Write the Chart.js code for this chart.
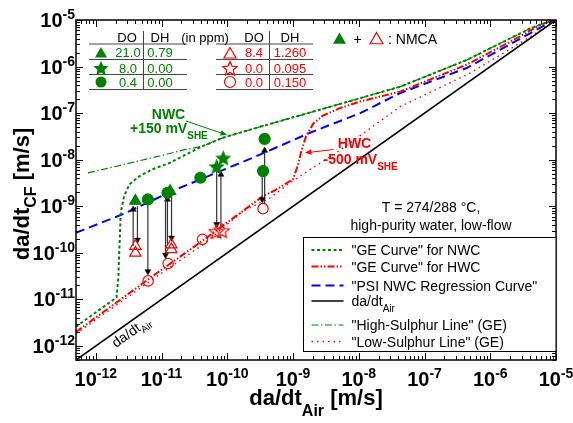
<!DOCTYPE html>
<html>
<head>
<meta charset="utf-8">
<script src="https://cdn.jsdelivr.net/npm/chart.js@4.4.0/dist/chart.umd.min.js"></script>
<style>
  html, body { margin: 0; padding: 0; background: #fff; }
  #wrap { width: 573px; height: 423px; position: relative; }
</style>
</head>
<body>
<div id="wrap"><canvas id="myChart"></canvas></div>
<script>
var green = '#008000';
var red = '#ff0000';
var blue = '#0000ff';
var FONT = "'Liberation Sans', Arial, Helvetica, sans-serif";

// axes (da/dt in m/s), log-log
var axisMin = 5e-13;
var axisMax = 1e-5;
var decades = [-12, -11, -10, -9, -8, -7, -6, -5];

// curves
var airX = [5e-13, 1e-5];
var airY = [5e-13, 1e-5];

var nwcX = [5e-13, 2.07e-12, 2.21e-12, 2.26e-12, 2.4e-12, 2.7e-12, 3.24e-12, 4.57e-12, 7.2e-12, 1.32e-11, 2.34e-11, 4.2e-11, 8.5e-11, 3.16e-10, 3.16e-9, 4.27e-8, 4.37e-7, 4.07e-6, 9.3e-6];
var nwcY = [2.6e-12, 1.1e-11, 3.2e-11, 8.5e-11, 7.4e-10, 1.66e-9, 2.95e-9, 4.4e-9, 6.2e-9, 8.5e-9, 1.29e-8, 1.95e-8, 2.95e-8, 5.1e-8, 1.29e-7, 3.7e-7, 1.38e-6, 6.6e-6, 1.02e-5];

var hwcX = [5e-13, 6.5e-12, 4.2e-11, 3.5e-10, 5.0e-10, 1.0e-9, 1.17e-9, 1.35e-9, 1.58e-9, 2.04e-9, 2.8e-9, 5.0e-9, 1.05e-8, 4.27e-8, 4.37e-7, 2.24e-6, 5.75e-6, 9.5e-6];
var hwcY = [2.0e-12, 2.8e-11, 1.82e-10, 1.66e-9, 2.1e-9, 3.8e-9, 7.2e-9, 1.6e-8, 3.2e-8, 6.0e-8, 8.7e-8, 1.26e-7, 1.78e-7, 2.9e-7, 1.1e-6, 3.7e-6, 7.8e-6, 1.02e-5];

var psiX = [5e-13, 2.54e-12, 1.66e-11, 2.43e-10, 1.82e-9, 1.05e-8, 4.27e-8, 4.37e-7, 4.47e-6, 9.3e-6];
var psiY = [2.7e-10, 6.7e-10, 2.3e-9, 1.1e-8, 3.8e-8, 1.0e-7, 2.7e-7, 9.3e-7, 5.6e-6, 1.0e-5];

var highSX = [7.6e-13, 1.0e-11, 2.34e-11, 4.2e-11, 8.5e-11, 3.16e-10, 3.16e-9, 4.27e-8, 4.37e-7, 4.07e-6, 9.3e-6];
var highSY = [5.2e-9, 1.23e-8, 1.66e-8, 1.95e-8, 2.95e-8, 5.1e-8, 1.29e-7, 3.7e-7, 1.38e-6, 6.6e-6, 1.02e-5];

var lowSX = [5e-13, 6.5e-12, 4.2e-11, 1.75e-10, 4.47e-10, 8.9e-10, 1.82e-9, 4.57e-9, 4.27e-8, 4.9e-7, 4.07e-6, 9.3e-6];
var lowSY = [1.82e-12, 2.4e-11, 1.48e-10, 7.85e-10, 1.51e-9, 3.16e-9, 6.2e-9, 1.41e-8, 1.38e-7, 7.2e-7, 4.37e-6, 9.5e-6];

// measured points, NWC (filled green) and HWC (open red)
var nwcTriX = [4.0e-12, 1.35e-11];
var nwcTriY = [1.3e-9, 2.1e-9];
var nwcStarX = [6.9e-11, 8.7e-11];
var nwcStarY = [7.2e-9, 1.1e-8];
var nwcCircX = [6.2e-12, 1.23e-11, 3.9e-11, 3.5e-10, 3.7e-10];
var nwcCircY = [1.4e-9, 1.95e-9, 4.1e-9, 5.7e-9, 2.8e-8];

var hwcTriX = [4.0e-12, 4.0e-12, 1.41e-11, 1.41e-11];
var hwcTriY = [1.4e-10, 1.0e-10, 1.5e-10, 1.19e-10];
var hwcStarX = [6.8e-11, 8.3e-11];
var hwcStarY = [2.9e-10, 3.0e-10];
var hwcCircX = [6.25e-12, 1.26e-11, 4.2e-11, 3.5e-10];
var hwcCircY = [2.5e-11, 5.9e-11, 1.95e-10, 8.9e-10];

// switching arrows: x, start, end (head)
var arrowX    = [3.7e-12, 4.3e-12, 6.2e-12, 1.15e-11, 1.23e-11, 1.42e-11, 6.9e-11, 8.0e-11, 3.4e-10, 3.7e-10];
var arrowFrom = [1.4e-10, 1.0e-9, 1.4e-9, 1.9e-9, 1.5e-10, 2.0e-9, 7.0e-9, 3.6e-10, 5.6e-9, 1.1e-9];
var arrowTo   = [8.5e-10, 1.9e-10, 4.0e-11, 9.0e-11, 1.4e-9, 2.1e-10, 4.1e-10, 4.8e-9, 1.4e-9, 1.57e-8];

function pts(xs, ys) {
  return xs.map(function (x, i) { return { x: x, y: ys[i] }; });
}

function curve(xs, ys, color, dash, width) {
  return { data: pts(xs, ys), showLine: true, borderColor: color, borderDash: dash,
    borderWidth: width, pointRadius: 0, fill: false, tension: 0, order: 2 };
}

function starPath(g, x, y, r) {
  g.beginPath();
  for (var i = 0; i < 10; i++) {
    var rr = i % 2 ? r * 0.46 : r;
    var a = -Math.PI / 2 + i * Math.PI / 5;
    g.lineTo(x + rr * Math.cos(a), y + rr * Math.sin(a));
  }
  g.closePath();
}

function starCanvas(r, fill, stroke, lw) {
  var c = document.createElement('canvas');
  var s = Math.ceil(2 * r + 4);
  c.width = s; c.height = s;
  var g = c.getContext('2d');
  starPath(g, s / 2, s / 2 + 0.8, r);
  if (fill) { g.fillStyle = fill; g.fill(); }
  if (stroke) { g.strokeStyle = stroke; g.lineWidth = lw; g.stroke(); }
  return c;
}

var greenStar = starCanvas(8.5, green, null, 0);
var redStar = starCanvas(7.5, null, red, 1.2);

function marks(xs, ys, style, radius, fill, stroke) {
  return { data: pts(xs, ys), showLine: false, pointStyle: style, pointRadius: radius,
    pointBackgroundColor: fill, pointBorderColor: stroke, pointBorderWidth: 1.2, order: 0 };
}

var geNwc = curve(nwcX, nwcY, green, [3, 2.5], 2);
var geHwc = curve(hwcX, hwcY, red, [7, 2, 1.5, 2, 1.5, 2], 2);
var psi = curve(psiX, psiY, blue, [9, 5], 2);
var air = curve(airX, airY, '#000', [], 1.6);
var highS = curve(highSX, highSY, green, [7, 2.5, 1.5, 2.5], 1.2);
var lowS = curve(lowSX, lowSY, red, [1.5, 4], 1.4);

var datasets = [
  marks(nwcTriX, nwcTriY, 'triangle', 6.5, green, green),
  marks(nwcStarX, nwcStarY, greenStar, 8, green, green),
  marks(nwcCircX, nwcCircY, 'circle', 5.5, green, green),
  marks(hwcTriX, hwcTriY, 'triangle', 6.5, 'rgba(0,0,0,0)', red),
  marks(hwcStarX, hwcStarY, redStar, 7, 'rgba(0,0,0,0)', red),
  marks(hwcCircX, hwcCircY, 'circle', 5.2, 'rgba(0,0,0,0)', red)
];

arrowX.forEach(function (x, i) {
  var up = arrowTo[i] > arrowFrom[i];
  datasets.push({
    data: [{ x: x, y: arrowFrom[i] }, { x: x, y: arrowTo[i] }],
    showLine: true, borderColor: '#333', borderWidth: 1.2,
    pointRadius: [0, 3.5], pointStyle: 'triangle', pointRotation: [0, up ? 0 : 180],
    pointBackgroundColor: '#000', pointBorderColor: '#000', pointBorderWidth: 0.5, order: 1
  });
});

datasets.push(geNwc, geHwc, psi, air, highS, lowS);

// text with sub/superscripts: parts = [text, font, dy, color]
function runText(ctx, x, y, parts, align) {
  var w = 0;
  parts.forEach(function (p) { ctx.font = p[1]; w += ctx.measureText(p[0]).width; });
  if (align === 'center') x -= w / 2;
  else if (align === 'right') x -= w;
  ctx.textAlign = 'left';
  ctx.textBaseline = 'alphabetic';
  parts.forEach(function (p) {
    ctx.font = p[1];
    if (p[3]) ctx.fillStyle = p[3];
    ctx.fillText(p[0], x, y + (p[2] || 0));
    x += ctx.measureText(p[0]).width;
  });
}

function seg(ctx, x1, y1, x2, y2) {
  ctx.beginPath(); ctx.moveTo(x1, y1); ctx.lineTo(x2, y2); ctx.stroke();
}

function head(ctx, x1, y1, x2, y2, size, color) {
  var a = Math.atan2(y2 - y1, x2 - x1);
  ctx.fillStyle = color;
  ctx.beginPath();
  ctx.moveTo(x2, y2);
  ctx.lineTo(x2 - size * Math.cos(a - 0.4), y2 - size * Math.sin(a - 0.4));
  ctx.lineTo(x2 - size * Math.cos(a + 0.4), y2 - size * Math.sin(a + 0.4));
  ctx.closePath();
  ctx.fill();
}

function tri(ctx, x, y, r, fill, stroke) {
  ctx.beginPath();
  for (var k = 0; k < 3; k++) {
    var a = k * 2 * Math.PI / 3;
    ctx.lineTo(x + Math.sin(a) * r, y - Math.cos(a) * r);
  }
  ctx.closePath();
  if (fill) { ctx.fillStyle = fill; ctx.fill(); }
  if (stroke) { ctx.strokeStyle = stroke; ctx.lineWidth = 1.2; ctx.stroke(); }
}

function circ(ctx, x, y, r, fill, stroke) {
  ctx.beginPath();
  ctx.arc(x, y, r, 0, 2 * Math.PI);
  if (fill) { ctx.fillStyle = fill; ctx.fill(); }
  if (stroke) { ctx.strokeStyle = stroke; ctx.lineWidth = 1.2; ctx.stroke(); }
}

var decor = {
  id: 'decor',
  afterDraw: function (chart) {
    var ctx = chart.ctx, a = chart.chartArea, xs = chart.scales.x, ys = chart.scales.y;
    ctx.save();
    ctx.setLineDash([]);
    ctx.strokeStyle = '#000';

    // ticks, inward on all four sides
    ctx.lineWidth = 1;
    for (var d = -13; d <= -5; d++) {
      for (var m = 1; m <= 9; m++) {
        var v = m * Math.pow(10, d);
        if (v < axisMin * 0.999 || v > axisMax * 1.001) continue;
        var len = m === 1 ? 7 : 4;
        var px = Math.round(xs.getPixelForValue(v)) + 0.5;
        seg(ctx, px, a.bottom, px, a.bottom - len);
        seg(ctx, px, a.top, px, a.top + len);
        var py = Math.round(ys.getPixelForValue(v)) + 0.5;
        seg(ctx, a.left, py, a.left + len, py);
        seg(ctx, a.right, py, a.right - len, py);
      }
    }
    ctx.lineWidth = 1.5;
    ctx.strokeRect(a.left, a.top, a.right - a.left, a.bottom - a.top);

    // tick labels
    ctx.fillStyle = '#000';
    var bf = 'bold 20px ' + FONT, ef = 'bold 14px ' + FONT;
    decades.forEach(function (e) {
      var v = Math.pow(10, e);
      var px = xs.getPixelForValue(v);
      runText(ctx, px, 386, [['10', bf, 0], [String(e), ef, -8]], 'center');
      var py = ys.getPixelForValue(v);
      runText(ctx, a.left - 1, py + 7, [['10', bf, 0], [String(e), ef, -8]], 'right');
    });

    // axis titles
    var tf = 'bold 22px ' + FONT, sf = 'bold 16px ' + FONT;
    runText(ctx, 316, 405, [['da/dt', tf, 0], ['Air', sf, 11], [' [m/s]', tf, 0]], 'center');
    ctx.save();
    ctx.translate(29, 194);
    ctx.rotate(-Math.PI / 2);
    runText(ctx, 0, 0, [['da/dt', tf, 0], ['CF', sf, 7], [' [m/s]', tf, 0]], 'center');
    ctx.restore();

    // tables of water chemistry
    var tb = '13px ' + FONT;
    ctx.strokeStyle = '#444';
    ctx.lineWidth = 1;
    [44, 59.5, 74.5, 89.5].forEach(function (y) {
      seg(ctx, 89, y, 187, y);
      seg(ctx, 216, y, 313, y);
    });
    seg(ctx, 143.5, 31, 143.5, 89.5);
    seg(ctx, 269.5, 31, 269.5, 89.5);
    ctx.textAlign = 'center';
    ctx.font = tb;
    ctx.fillStyle = '#000';
    ctx.fillText('DO', 127, 42);
    ctx.fillText('DH', 160, 42);
    ctx.fillText('(in ppm)', 205, 42);
    ctx.fillText('DO', 254, 42);
    ctx.fillText('DH', 290, 42);
    var rowsY = [52.7, 68, 82];
    var gDO = ['21.0', '8.0', '0.4'], gDH = ['0.79', '0.00', '0.00'];
    var rDO = ['8.4', '0.0', '0.0'], rDH = ['1.260', '0.095', '0.150'];
    rowsY.forEach(function (y, i) {
      ctx.font = tb;
      ctx.textAlign = 'center';
      ctx.fillStyle = green;
      ctx.fillText(gDO[i], 128, y + 4.5);
      ctx.fillText(gDH[i], 160, y + 4.5);
      ctx.fillStyle = red;
      ctx.fillText(rDO[i], 254, y + 4.5);
      ctx.fillText(rDH[i], 290, y + 4.5);
    });
    tri(ctx, 101, 54, 7, green, null);
    starPath(ctx, 101, 68.8, 8); ctx.fillStyle = green; ctx.fill();
    circ(ctx, 101, 82, 5.5, green, null);
    tri(ctx, 230, 54.5, 7, null, red);
    starPath(ctx, 230, 69, 7.5); ctx.strokeStyle = red; ctx.lineWidth = 1.2; ctx.stroke();
    circ(ctx, 230, 82, 5.5, null, red);

    // NMCA key
    tri(ctx, 339.5, 40, 7.5, green, null);
    tri(ctx, 376.5, 40, 7.5, null, red);
    ctx.fillStyle = '#000';
    ctx.font = '14px ' + FONT;
    ctx.textAlign = 'center';
    ctx.fillText('+', 357.5, 44);
    ctx.textAlign = 'left';
    ctx.fillText(': NMCA', 388, 44);

    // NWC / HWC annotations
    var af = 'bold 14px ' + FONT, asf = 'bold 10px ' + FONT;
    ctx.fillStyle = green;
    ctx.font = af;
    ctx.textAlign = 'center';
    ctx.fillText('NWC', 168.5, 118.5);
    runText(ctx, 130, 133, [['+150 mV', af, 0, green], ['SHE', asf, 6, green]], 'left');
    ctx.strokeStyle = green; ctx.lineWidth = 1;
    seg(ctx, 186, 121, 224, 134);
    head(ctx, 186, 121, 227, 135, 7, green);

    ctx.fillStyle = red;
    ctx.font = af;
    ctx.textAlign = 'center';
    ctx.fillText('HWC', 354.5, 147.5);
    runText(ctx, 323.5, 164, [['-500 mV', af, 0, red], ['SHE', asf, 6, red]], 'left');
    ctx.strokeStyle = red; ctx.lineWidth = 1;
    seg(ctx, 333.5, 149.5, 308, 152.5);
    head(ctx, 333.5, 149.5, 305, 152.8, 7, red);

    // label along the da/dt_Air line
    var ang = Math.atan2(ys.getPixelForValue(1e-12) - ys.getPixelForValue(1e-11),
      xs.getPixelForValue(1e-11) - xs.getPixelForValue(1e-12));
    ctx.save();
    ctx.translate(116, 348);
    ctx.rotate(-ang);
    runText(ctx, 0, 0, [['da/dt', '14px ' + FONT, 0, '#000'], ['Air', '10px ' + FONT, 4, '#000']], 'left');
    ctx.restore();

    // conditions
    ctx.fillStyle = '#000';
    ctx.font = '14px ' + FONT;
    ctx.textAlign = 'center';
    ctx.fillText('T = 274/288 \u00b0C,', 431, 212);
    ctx.fillText('high-purity water, low-flow', 431, 230);

    // legend
    ctx.fillStyle = '#fff';
    ctx.fillRect(303.5, 237.5, a.right - 303.5, 114);
    ctx.strokeStyle = '#000';
    ctx.lineWidth = 1;
    ctx.setLineDash([]);
    ctx.strokeRect(303.5, 237.5, a.right - 303.5, 114);
    var items = [
      [geNwc, 250, [['"GE Curve" for NWC', '14px ' + FONT, 0]]],
      [geHwc, 266.5, [['"GE Curve" for HWC', '14px ' + FONT, 0]]],
      [psi, 285.5, [['"PSI NWC Regression Curve"', '14px ' + FONT, 0]]],
      [air, 301, [['da/dt', '14px ' + FONT, 0], ['Air', '10px ' + FONT, 6]]],
      [highS, 325, [['"High-Sulphur Line" (GE)', '14px ' + FONT, 0]]],
      [lowS, 341.5, [['"Low-Sulphur Line" (GE)', '14px ' + FONT, 0]]]
    ];
    items.forEach(function (it) {
      var ds = it[0];
      ctx.strokeStyle = ds.borderColor;
      ctx.lineWidth = ds.borderWidth;
      ctx.setLineDash(ds.borderDash);
      seg(ctx, 311.5, it[1], 343.5, it[1]);
      ctx.setLineDash([]);
      ctx.fillStyle = '#000';
      runText(ctx, 351.5, it[1] + 5, it[2], 'left');
    });
    ctx.restore();
  }
};

var ctx = document.getElementById('myChart').getContext('2d');
var myChart = new Chart(ctx, {
  type: 'scatter',
  data: { datasets: datasets },
  options: {
    responsive: true,
    maintainAspectRatio: false,
    animation: false,
    layout: { padding: { left: 76, right: 17, top: 20, bottom: 63 } },
    plugins: { legend: { display: false }, tooltip: { enabled: false } },
    scales: {
      x: { type: 'logarithmic', min: axisMin, max: axisMax, display: false },
      y: { type: 'logarithmic', min: axisMin, max: axisMax, display: false }
    }
  },
  plugins: [decor]
});
</script>
</body>
</html>
